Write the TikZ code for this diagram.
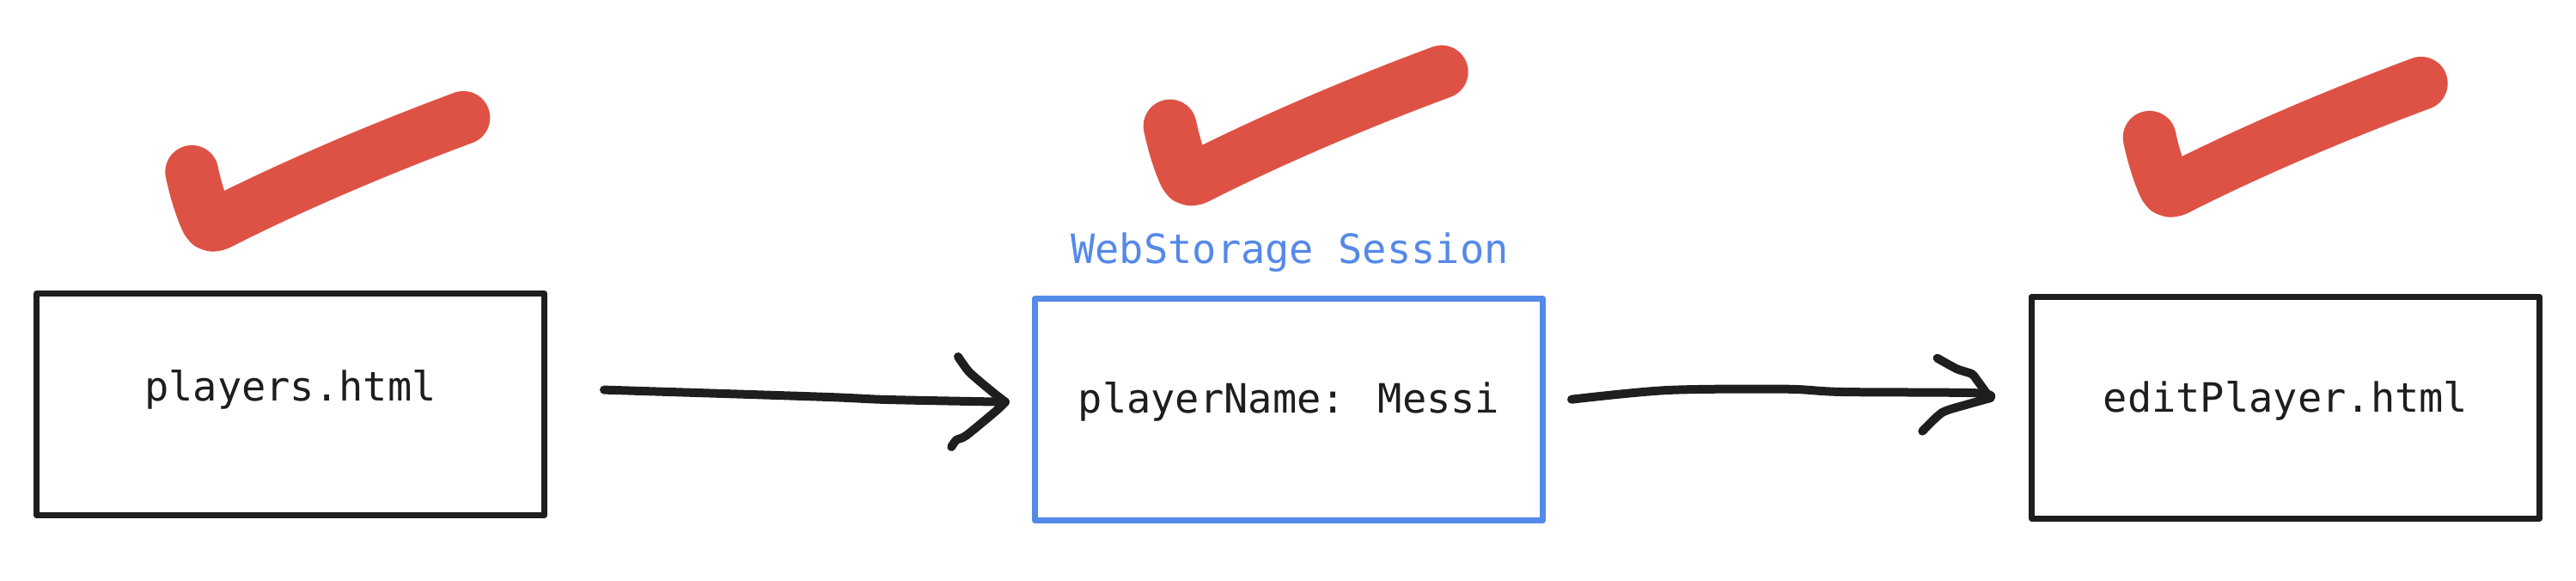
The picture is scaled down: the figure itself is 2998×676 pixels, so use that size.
\documentclass[tikz,border=0pt]{standalone}
\usepackage{fontspec}
\newfontfamily\codefont{DejaVu Sans Mono}
\usetikzlibrary{calc}
\definecolor{inkblack}{RGB}{30,30,30}
\definecolor{inkblue}{RGB}{85,137,233}
\definecolor{inkred}{RGB}{222,82,69}
\tikzset{
  pagebox/.style={draw=inkblack, line width=7pt, minimum width=591pt, minimum height=258pt, inner sep=0pt, line join=round},
  storebox/.style={pagebox, draw=inkblue},
  codetext/.style={font=\codefont\fontsize{47}{56}\selectfont, text=inkblack, anchor=base, inner sep=0pt},
  bluetext/.style={codetext, text=inkblue},
  sketch/.style={draw=inkblack, line width=10pt, line cap=round, line join=round},
  tick/.style={draw=inkred, line width=62pt, line cap=round, line join=round}
}
\begin{document}
\begin{tikzpicture}[x=1pt, y=-1pt]
\useasboundingbox (0,0) rectangle (2998,676);

% boxes
\node[pagebox] (b1) at (338,470.6) {};
\node[storebox] (b2) at (1500,476.7) {};
\node[pagebox] (b3) at (2660,474.2) {};

% texts
\node[codetext] (t1) at (338,466.7) {players.html};
\node[codetext] (t2) at (1500,480.7) {playerName: Messi};
\node[codetext] (t3) at (2660,479) {editPlayer.html};
\node[bluetext] (lbl) at (1501,306) {WebStorage Session};

% arrow 1
\coordinate (a1s) at ($(b1.east)+(66,-17)$);
\coordinate (a1t) at ($(b2.west)+(-31,-9)$);
\draw[sketch] plot[smooth, tension=0.5] coordinates {(a1s) (956,461.7) (1032.7,465) (a1t)};
\draw[sketch] plot[smooth, tension=0.4] coordinates {(1115,415) (1128.4,433.3) (1155,456) (a1t)};
\draw[sketch] plot[smooth, tension=0.4] coordinates {(a1t) (1159,478.3) (1124.6,506.7) (1113,512) (1107.3,520)};

% arrow 2
\coordinate (a2s) at ($(b2.east)+(30,-12)$);
\coordinate (a2t) at ($(b3.west)+(-45,-11)$);
\draw[sketch] plot[smooth, tension=0.5] coordinates {(a2s) (1940.7,454) (2078.5,452.7) (2143.6,456) (2300.5,457.3) (a2t)};
\draw[sketch] plot[smooth, tension=0.4] coordinates {(2254.6,416.7) (2277.5,429.3) (2294.7,435) (2300.5,441.7) (a2t)};
\draw[sketch] plot[smooth, tension=0.4] coordinates {(a2t) (2289,470.7) (2260.3,480) (2237.3,501.7)};

% check marks
\foreach \cx/\cy in {223.3/200, 1361.7/146.7, 2501.7/160} {
  \begin{scope}[shift={(\cx,\cy)}]
    \draw[tick] (0,0) .. controls (4,20) and (12,45) .. (18,57)
                .. controls (21,63) and (26,63) .. (35,58)
                .. controls (100,25) and (200,-20) .. (316,-63);
  \end{scope}
}
\end{tikzpicture}
\end{document}
